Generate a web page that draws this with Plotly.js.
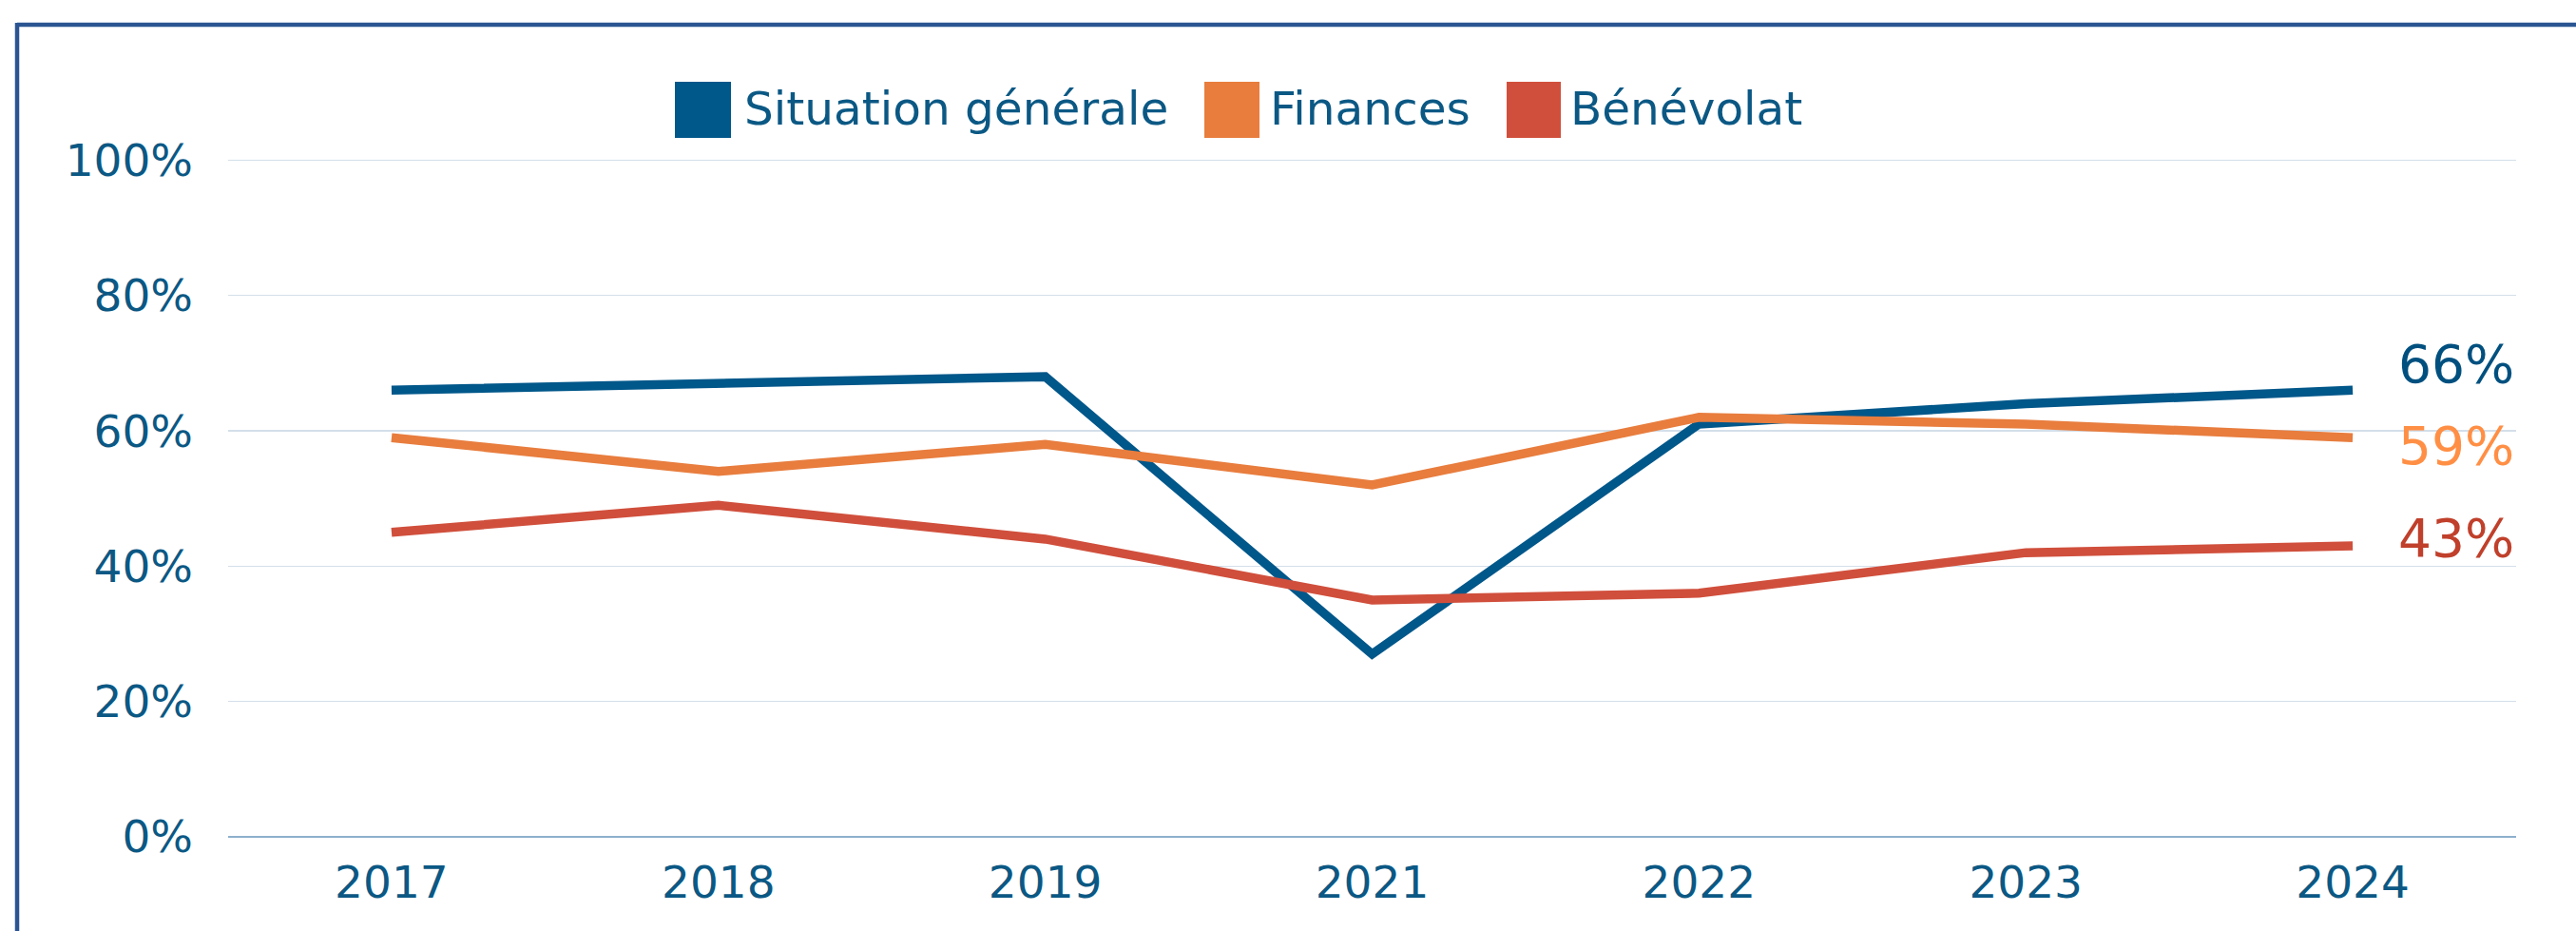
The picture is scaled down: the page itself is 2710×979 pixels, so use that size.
<!DOCTYPE html>
<html>
<head>
<meta charset="utf-8">
<script src="https://cdn.plot.ly/plotly-3.0.1.min.js"></script>
<style>
  html, body { margin: 0; padding: 0; background: #ffffff; }
  #chart { width: 2710px; height: 979px; }
</style>
</head>
<body>
<div id="chart"></div>
<script>
// ---- Data ----
const years = ["2017", "2018", "2019", "2021", "2022", "2023", "2024"];
const seriesNames = ["Situation générale", "Finances", "Bénévolat"];
const situationGenerale = [0.66, 0.67, 0.68, 0.27, 0.61, 0.64, 0.66];
const finances = [0.59, 0.54, 0.58, 0.52, 0.62, 0.61, 0.59];
const benevolat = [0.45, 0.49, 0.44, 0.35, 0.36, 0.42, 0.43];
const yTickValues = [0, 0.2, 0.4, 0.6, 0.8, 1.0];

// ---- Styles ----
const lineColors = ["#00578a", "#e87d3e", "#d04f3c"];
const endLabelColors = ["#00507f", "#ff8f45", "#c0402b"];
const endLabelShift = [27, -9, 8];
const textColor = "#0b5884";
const FONT = "DejaVu Sans, Verdana, sans-serif";

const allSeries = [situationGenerale, finances, benevolat];

const traces = allSeries.map((vals, i) => ({
  type: "scatter",
  mode: "lines",
  x: years,
  y: vals,
  name: seriesNames[i],
  line: { color: lineColors[i], width: 9.5 },
  showlegend: false,
  hoverinfo: "x+y+name"
}));

// Layout geometry (pixels in the 2710x979 canvas)
const W = 2710, H = 979;
const mL = 240, mR = 63, mT = 167, mB = 99;
const pw = W - mL - mR, ph = H - mT - mB;
const px = v => (v - mL) / pw;
const py = v => (H - mB - v) / ph;

// Custom legend: squares + text
const legendSquares = [[710, 769], [1267, 1325], [1585, 1642]];
const legendTextX = [781, 1334, 1650];
const shapes = [];
const annotations = [];
seriesNames.forEach((nm, i) => {
  shapes.push({
    type: "rect", xref: "paper", yref: "paper",
    x0: px(legendSquares[i][0]), x1: px(legendSquares[i][1]),
    y0: py(145), y1: py(86),
    fillcolor: lineColors[i], line: { width: 0 }
  });
  annotations.push({
    xref: "paper", yref: "paper",
    x: px(legendTextX[i]), y: py(114),
    xanchor: "left", yanchor: "middle",
    text: nm, showarrow: false,
    font: { family: FONT, size: 48.5, color: textColor }
  });
});

// End-of-line value labels
allSeries.forEach((vals, i) => {
  const last = vals[vals.length - 1];
  annotations.push({
    xref: "paper", yref: "y",
    x: 1, y: last, yshift: endLabelShift[i], xshift: 0,
    xanchor: "right", yanchor: "middle",
    text: Math.round(last * 100) + "%",
    showarrow: false,
    font: { family: FONT, size: 55, color: endLabelColors[i] }
  });
});

// Frame (top and left border)
const frameColor = "#2b5592";
shapes.push({
  type: "line", xref: "paper", yref: "paper", layer: "above",
  x0: px(18), x1: px(2730), y0: py(26), y1: py(26),
  line: { color: frameColor, width: 4.5 }
});
shapes.push({
  type: "line", xref: "paper", yref: "paper", layer: "above",
  x0: px(18), x1: px(18), y0: py(24), y1: py(1000),
  line: { color: frameColor, width: 4.5 }
});

const layout = {
  width: W, height: H,
  margin: { l: mL, r: mR, t: mT, b: mB, pad: 0 },
  paper_bgcolor: "#ffffff",
  plot_bgcolor: "#ffffff",
  showlegend: false,
  font: { family: FONT, color: textColor },
  xaxis: {
    type: "category",
    range: [-0.5, 6.5],
    showgrid: false,
    zeroline: false,
    showline: false,
    ticks: "",
    tickfont: { family: FONT, size: 47, color: textColor },
    ticklabelstandoff: 16,
    fixedrange: true
  },
  yaxis: {
    range: [0, 1.002],
    tickvals: yTickValues,
    tickformat: ".0%",
    showgrid: true,
    gridcolor: "#d3dfea",
    gridwidth: 1.5,
    zeroline: true,
    zerolinecolor: "#8db0cc",
    zerolinewidth: 2,
    showline: false,
    ticks: "",
    tickfont: { family: FONT, size: 47, color: textColor },
    ticklabelstandoff: 36,
    fixedrange: true
  },
  shapes: shapes,
  annotations: annotations
};

Plotly.newPlot("chart", traces, layout, { displayModeBar: false, staticPlot: true });
</script>
</body>
</html>
